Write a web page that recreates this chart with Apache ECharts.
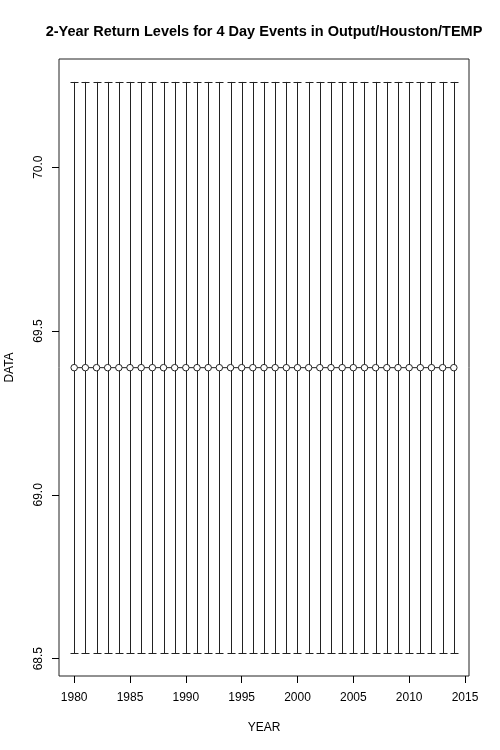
<!DOCTYPE html>
<html><head><meta charset="utf-8">
<script src="https://cdn.jsdelivr.net/npm/echarts@6/dist/echarts.min.js"></script>
<style>html,body{margin:0;padding:0;background:#fff}#c{width:500px;height:750px}</style>
</head><body><div id="c"></div>
<script>
var years = [1980,1981,1982,1983,1984,1985,1986,1987,1988,1989,1990,1991,1992,1993,1994,1995,1996,1997,1998,1999,2000,2001,2002,2003,2004,2005,2006,2007,2008,2009,2010,2011,2012,2013,2014];
var levels = [69.388,69.388,69.388,69.388,69.388,69.388,69.388,69.388,69.388,69.388,69.388,69.388,69.388,69.388,69.388,69.388,69.388,69.388,69.388,69.388,69.388,69.388,69.388,69.388,69.388,69.388,69.388,69.388,69.388,69.388,69.388,69.388,69.388,69.388,69.388];
var lower = [68.517,68.517,68.517,68.517,68.517,68.517,68.517,68.517,68.517,68.517,68.517,68.517,68.517,68.517,68.517,68.517,68.517,68.517,68.517,68.517,68.517,68.517,68.517,68.517,68.517,68.517,68.517,68.517,68.517,68.517,68.517,68.517,68.517,68.517,68.517];
var upper = [70.26,70.26,70.26,70.26,70.26,70.26,70.26,70.26,70.26,70.26,70.26,70.26,70.26,70.26,70.26,70.26,70.26,70.26,70.26,70.26,70.26,70.26,70.26,70.26,70.26,70.26,70.26,70.26,70.26,70.26,70.26,70.26,70.26,70.26,70.26];
var xTicks = [1980,1985,1990,1995,2000,2005,2010,2015];
var yTicks = [68.5,69.0,69.5,70.0];
var titleText = '2-Year Return Levels for 4 Day Events in Output/Houston/TEMP';

var font = 'Liberation Sans, Arial, Helvetica, sans-serif';
var chart = echarts.init(document.getElementById('c'), null, {renderer:'canvas'});
var barData = years.map(function(y,i){return [y, lower[i], upper[i]];});
var lineData = years.map(function(y,i){return [y, levels[i]];});
chart.setOption({
  animation:false,
  title:{text:titleText,left:259,top:19,textAlign:'center',
    textStyle:{fontFamily:font,fontSize:14.5,fontWeight:'bold',color:'#000'}},
  grid:{left:59,top:59,width:410,height:617,show:true,borderColor:'#222',borderWidth:1,containLabel:false,outerBoundsMode:'none'},
  xAxis:{type:'value',min:1978.64,max:2015.36,
    name:'YEAR',nameLocation:'middle',nameGap:46,
    nameTextStyle:{fontFamily:font,fontSize:12,color:'#000'},
    axisLine:{show:false},
    axisTick:{show:true,length:7,customValues:xTicks,lineStyle:{color:'#000'}},
    axisLabel:{customValues:xTicks,margin:16,fontFamily:font,fontSize:12,color:'#000',
      formatter:function(v){return String(v);}},
    splitLine:{show:false}},
  yAxis:{type:'value',min:68.447,max:70.33,
    name:'DATA',nameLocation:'middle',nameGap:43,nameRotate:90,
    nameTextStyle:{fontFamily:font,fontSize:12,color:'#000'},
    axisLine:{show:false},
    axisTick:{show:true,length:7,customValues:yTicks,lineStyle:{color:'#000'}},
    axisLabel:{customValues:yTicks,rotate:90,margin:14,fontFamily:font,fontSize:12,color:'#000',
      formatter:function(v){return Number(v).toFixed(1);}},
    splitLine:{show:false}},
  series:[
    {type:'custom',data:barData,
     renderItem:function(params,api){
       var x=api.value(0);
       var lo=api.coord([x,api.value(1)]);
       var hi=api.coord([x,api.value(2)]);
       var cx=Math.round(lo[0])+0.5;
       var w=4;
       var st={stroke:'#222',lineWidth:1};
       return {type:'group',children:[
         {type:'line',shape:{x1:cx,y1:hi[1],x2:cx,y2:lo[1]},style:st},
         {type:'line',shape:{x1:cx-w,y1:Math.round(hi[1])+0.5,x2:cx+w,y2:Math.round(hi[1])+0.5},style:st},
         {type:'line',shape:{x1:cx-w,y1:Math.round(lo[1])+0.5,x2:cx+w,y2:Math.round(lo[1])+0.5},style:st}
       ]};
     },z:2},
    {type:'line',data:lineData,symbol:'circle',symbolSize:6.5,showSymbol:true,
     itemStyle:{color:'#fff',borderColor:'#222',borderWidth:1},
     lineStyle:{color:'#222',width:1},z:3}
  ]
});
</script></body></html>
